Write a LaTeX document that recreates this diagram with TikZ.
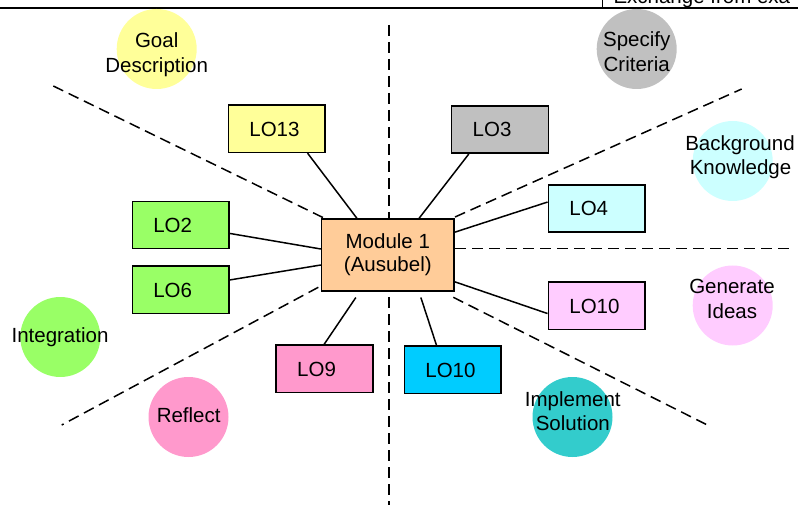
\documentclass[tikz,border=0pt]{standalone}
\usepackage{fontspec}
\setmainfont{Liberation Sans}
\usetikzlibrary{calc}

\definecolor{cyellow}{HTML}{FFFF99}
\definecolor{cgray}{HTML}{C0C0C0}
\definecolor{clcyan}{HTML}{CCFFFF}
\definecolor{clpink}{HTML}{FFCCFF}
\definecolor{cgreen}{HTML}{99FF66}
\definecolor{crose}{HTML}{FF99CC}
\definecolor{cteal}{HTML}{33CCCC}
\definecolor{cpeach}{HTML}{FFCC99}
\definecolor{csky}{HTML}{00CCFF}

\tikzset{
  lbl/.style={font=\fontsize{20.5}{24}\selectfont, inner sep=0pt},
  lobox/.style={draw=black, line width=1.6pt, minimum width=96.7pt, minimum height=47.3pt,
    inner xsep=21pt, inner ysep=0pt, text width=54.7pt, align=left,
    text height=14.7pt, text depth=0pt, font=\fontsize{20.5}{24}\selectfont},
  hub/.style={draw=black, line width=1.6pt, fill=cpeach, minimum width=132.3pt, minimum height=72pt,
    inner sep=0pt, align=center, font=\fontsize{20.5}{23}\selectfont},
  blob/.style={circle, minimum size=80pt, inner sep=0pt},
  link/.style={line width=1.5pt},
  divider/.style={line width=1.5pt, dash pattern=on 11pt off 6pt},
}

\begin{document}
\begin{tikzpicture}[x=1pt,y=-1pt]
\useasboundingbox (0,0) rectangle (798,505);

% header rule with the clipped caption box
\begin{scope}
  \clip (0,0) rectangle (798,505);
  \node[lbl, anchor=base west] (hdr) at (613.3,3.5) {Exchange from exa};
  \draw[line width=1.5pt] (602.7,0) coordinate (hdrtop) -- (602.7,7.7) coordinate (hdrbot);
  \draw[line width=2pt] (0,7.7) coordinate (rulel) -- (798,7.7) coordinate (ruler);
\end{scope}

% stage circles
\node[blob, fill=cyellow] (goal) at (156.7,49) {};
\node[lbl, anchor=base] (goalA) at (156.7,47.3) {Goal};
\node[lbl, anchor=base] (goalB) at (156.7,72.7) {Description};

\node[blob, fill=cgray] (spec) at (636.7,49) {};
\node[lbl, anchor=base] (specA) at (636.7,47) {Specify};
\node[lbl, anchor=base] (specB) at (636.7,72) {Criteria};

\node[blob, fill=clcyan] (back) at (732.7,161) {};
\node[lbl, anchor=base] (backA) at (740,150.7) {Background};
\node[lbl, anchor=base] (backB) at (740.5,174.3) {Knowledge};

\node[blob, fill=clpink] (gen) at (732.7,305.5) {};
\node[lbl, anchor=base] (genA) at (732,294) {Generate};
\node[lbl, anchor=base] (genB) at (732,318) {Ideas};

\node[blob, fill=cgreen] (integ) at (60.3,337) {};
\node[lbl, anchor=base] (integA) at (60,342.7) {Integration};

\node[blob, fill=crose] (refl) at (188.5,417) {};
\node[lbl, anchor=base] (reflA) at (188.7,422.7) {Reflect};

\node[blob, fill=cteal] (impl) at (572.5,417) {};
\node[lbl, anchor=base] (implA) at (572.8,406.7) {Implement};
\node[lbl, anchor=base] (implB) at (572.8,430.7) {Solution};

% sector dividers
\coordinate (vtop) at (389,25);
\coordinate (vbot) at (389,505);
\coordinate (hl) at (455,248.5);
\coordinate (hr) at (790,248.5);
\coordinate (ula) at (53.3,86);
\coordinate (ulb) at (323.3,217.7);
\coordinate (ura) at (455,217);
\coordinate (urb) at (741.7,89);
\coordinate (lla) at (318.3,287.3);
\coordinate (llb) at (61.7,425);
\coordinate (lra) at (453.3,297.3);
\coordinate (lrb) at (709.3,426);
\draw[divider] (vtop) -- (vbot);
\draw[divider] (hl) -- (hr);
\draw[divider] (ula) -- (ulb);
\draw[divider] (ura) -- (urb);
\draw[divider] (lla) -- (llb);
\draw[divider] (lra) -- (lrb);

% central module
\node[hub] (mod) at (387.8,255) {Module 1\\(Ausubel)};

% learning outcome boxes
\node[lobox, fill=cyellow] (lo13) at (276.7,128.7) {LO13};
\node[lobox, fill=cgray] (lo3) at (500,129.5) {LO3};
\node[lobox, fill=cgreen] (lo2) at (180.7,225) {LO2};
\node[lobox, fill=cgreen] (lo6) at (180.7,289.7) {LO6};
\node[lobox, fill=clcyan] (lo4) at (596.7,208.5) {LO4};
\node[lobox, fill=clpink] (lo10p) at (596.7,305.7) {LO10};
\node[lobox, fill=crose] (lo9) at (324.5,368.9) {LO9};
\node[lobox, fill=csky] (lo10c) at (452.7,369.9) {LO10};

% connectors from the outcomes to the module
\draw[link] ($(lo13.south west)+(80,0)$) -- ($(mod.north west)+(36,0)$);
\draw[link] ($(lo3.south west)+(18,0)$) -- ($(mod.north west)+(98.3,0)$);
\draw[link] ($(lo2.south east)+(0,-16)$) -- ($(mod.west)+(0,-6)$);
\draw[link] ($(lo6.north east)+(0,14.7)$) -- ($(mod.west)+(0,10)$);
\draw[link] ($(lo9.north west)+(48.7,0)$) -- ($(mod.south west)+(35,5.7)$);
\draw[link] ($(lo10c.north west)+(33,0)$) -- ($(mod.south west)+(100,5.7)$);
\draw[link] ($(lo4.north west)+(0,18)$) -- ($(mod.north east)+(0,14)$);
\draw[link] ($(lo10p.south west)+(0,-16.6)$) -- ($(mod.south east)+(0,-10)$);
\end{tikzpicture}
\end{document}
